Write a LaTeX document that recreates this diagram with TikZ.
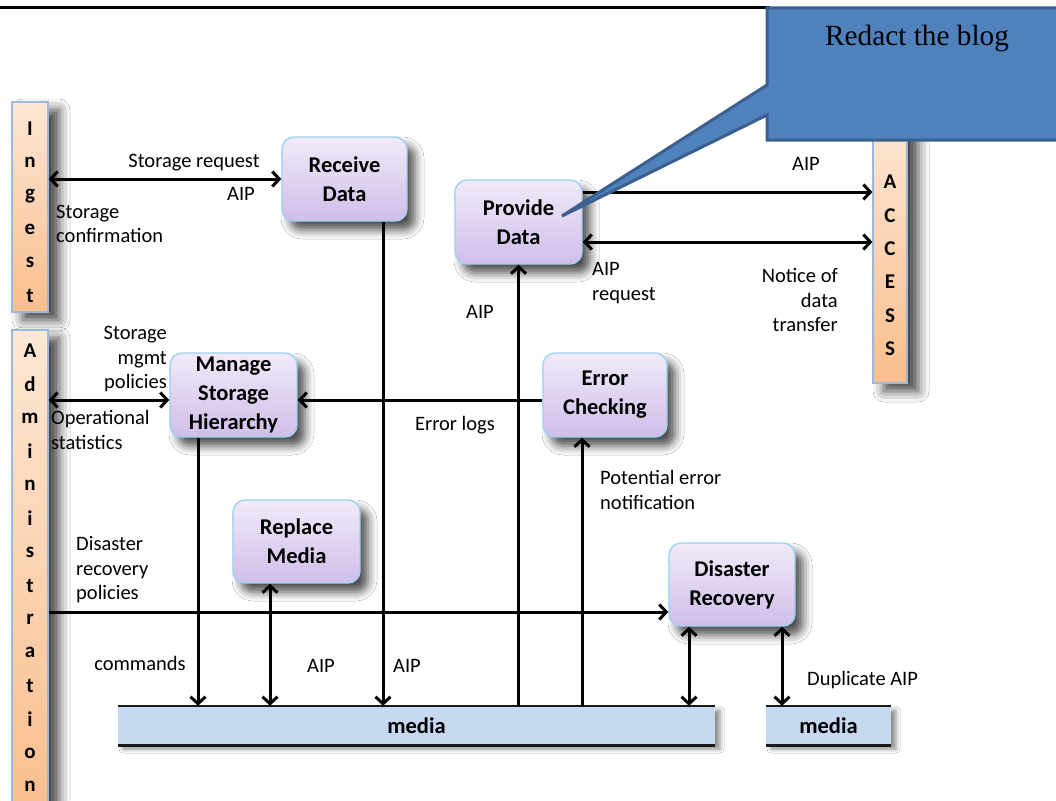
\documentclass[tikz,border=0pt]{standalone}
\usepackage{fontspec}
\setmainfont{Carlito}
\newfontfamily\calloutfont{Liberation Serif}
\usetikzlibrary{arrows.meta,shadows.blur,calc}

\definecolor{boxtop}{HTML}{F1EAF9}
\definecolor{boxbot}{HTML}{D0BEE9}
\definecolor{boxedge}{HTML}{9CD2F2}
\definecolor{bartop}{HTML}{FDE7D5}
\definecolor{barbot}{HTML}{F9BE8C}
\definecolor{baredge}{HTML}{9BB9DD}
\definecolor{mediafill}{HTML}{C6D9F1}
\definecolor{calloutfill}{HTML}{4F81BD}
\definecolor{calloutedge}{HTML}{3B6090}

\tikzset{
  lbl/.style={font=\fontsize{20.5}{24.5}\selectfont, inner sep=0pt, text=black},
  proc/.style={rounded corners=12pt, draw=boxedge, line width=1.4pt,
    top color=boxtop, bottom color=boxbot, align=center,
    font=\bfseries\fontsize{22.5}{29}\selectfont, text=black,
    blur shadow={shadow xshift=8pt, shadow yshift=-9pt, shadow blur radius=9pt, shadow opacity=70}},
  sidebar/.style={draw=baredge, line width=1.2pt, top color=bartop, bottom color=barbot,
    minimum width=36pt, inner sep=0pt,
    blur shadow={shadow xshift=11pt, shadow yshift=-8pt, shadow blur radius=11pt, shadow opacity=75}},
  barletter/.style={font=\bfseries\fontsize{21}{24}\selectfont, inner sep=0pt, text=black},
  mediabar/.style={fill=mediafill, inner sep=0pt, font=\bfseries\fontsize{22.5}{24}\selectfont,
    blur shadow={shadow xshift=5pt, shadow yshift=-4pt, shadow blur radius=4pt, shadow opacity=45}},
  arr/.style={line width=3pt, -{Straight Barb[length=7pt,width=15pt]}},
  dbl/.style={line width=3pt, {Straight Barb[length=7pt,width=15pt]}-{Straight Barb[length=7pt,width=15pt]}},
}

\begin{document}
\begin{tikzpicture}[x=1pt,y=-1pt]
\useasboundingbox (0,0) rectangle (1056,800);
\fill[white] (0,0) rectangle (1056,800);

% page header rule
\draw[line width=3pt] (0,8) -- (770,8);

% side bars
\node[sidebar, minimum height=210pt] (ingest) at (30,207) {};
\node[sidebar, minimum height=490pt] (admin) at (30,575) {};
\node[sidebar, minimum width=34pt, minimum height=263pt] (access) at (890,251.5) {};

\foreach \c [count=\i from 0] in {I,n,g,e,s,t}
  \node[barletter] at (30,129+33.4*\i) {\c};
\foreach \c [count=\i from 0] in {A,d,m,i,n,i,s,t,r,a,t,i,o,n}
  \node[barletter] at (30,351+33.5*\i) {\c};
\foreach \c [count=\i from 0] in {A,C,C,E,S,S}
  \node[barletter] at (890,182+33.3*\i) {\c};

% process boxes
\node[proc, minimum width=125pt, minimum height=84pt] (recv) at (344.5,179) {Receive\\Data};
\node[proc, minimum width=127pt, minimum height=84pt] (prov) at (518.5,222) {Provide\\Data};
\node[proc, minimum width=127pt, minimum height=84pt] (mgr) at (233.5,395) {Manage\\Storage\\Hierarchy};
\node[proc, minimum width=124pt, minimum height=84pt] (err) at (605,395) {Error\\Checking};
\node[proc, minimum width=127pt, minimum height=83pt] (repl) at (296.5,541.5) {Replace\\Media};
\node[proc, minimum width=126pt, minimum height=83pt] (dr) at (732,584.5) {Disaster\\Recovery};

% media bars
\node[mediabar, minimum width=597pt, minimum height=39pt] (media) at (416.5,725.5) {media};
\node[mediabar, minimum width=125pt, minimum height=39pt] (media2) at (828.5,725.5) {media};
\foreach \m in {media,media2}{
  \draw[line width=2.6pt, black!90] (\m.north west) -- (\m.north east);
  \draw[line width=2.6pt, black!90] (\m.south west) -- (\m.south east);
}

% connectors
\draw[dbl] (ingest.east |- recv.west) -- (recv.west);

\coordinate (rv) at ([xshift=38.5pt]recv.south);
\draw[arr] (rv) -- (rv |- media.north);

\coordinate (pa) at ([yshift=30pt]prov.east);
\draw[arr] (pa) -- (pa -| access.west);
\coordinate (pb) at ([yshift=-20pt]prov.east);
\draw[dbl] (pb) -- (pb -| access.west);

\draw[arr] (prov.south |- media.north) -- (prov.south);

\coordinate (ew) at ([yshift=-5pt]err.west);
\draw[arr] (ew) -- (ew -| mgr.east);
\coordinate (mw) at ([yshift=-5pt]mgr.west);
\draw[dbl] (admin.east |- mw) -- (mw);

\coordinate (ms) at ([xshift=-35.5pt]mgr.south);
\draw[arr] (ms) -- (ms |- media.north);

\coordinate (rs) at ([xshift=-26.5pt]repl.south);
\draw[dbl] (rs) -- (rs |- media.north);

\coordinate (es) at ([xshift=-23pt]err.south);
\draw[arr] (es |- media.north) -- (es);

\coordinate (dw) at ([yshift=-27.5pt]dr.west);
\draw[arr] (admin.east |- dw) -- (dw);

\coordinate (d1) at ([xshift=-43pt]dr.south);
\draw[dbl] (d1) -- (d1 |- media.north);
\coordinate (d2) at ([xshift=50pt]dr.south);
\draw[dbl] (d2) -- (d2 |- media2.north);

% connector labels
\node[lbl] (l1) at (194,163) {Storage request};
\node[lbl] (l2) at (241,194) {AIP};
\node[lbl, anchor=west, align=left] (l3) at (56,224) {Storage\\confirmation};
\node[lbl] (l4) at (806,164) {AIP};
\node[lbl, anchor=west, align=left] (l5) at (592,283) {AIP\\request};
\node[lbl, anchor=east, align=right] (l6) at (838,300) {Notice of\\data\\transfer};
\node[lbl] (l7) at (480,312) {AIP};
\node[lbl, anchor=east, align=right] (l8) at (167,359) {Storage\\mgmt\\policies};
\node[lbl, anchor=west, align=left] (l9) at (51,430) {Operational\\statistics};
\node[lbl] (l10) at (455,425) {Error logs};
\node[lbl, anchor=west, align=left] (l11) at (600,490) {Potential error\\notification};
\node[lbl, anchor=west, align=left] (l12) at (76,570) {Disaster\\recovery\\policies};
\node[lbl] (l13) at (140,663) {commands};
\node[lbl] (l14) at (321,666) {AIP};
\node[lbl] (l15) at (407,666) {AIP};
\node[lbl, anchor=west] (l16) at (807,680) {Duplicate AIP};

% callout
\filldraw[fill=calloutfill, draw=calloutedge, line width=3pt, line join=miter]
  (767,8) -- (1062,8) -- (1062,140) -- (767,140) -- (767,115) -- (562,216) -- (767,85) -- cycle;
\node[font=\calloutfont\fontsize{29.3}{32}\selectfont, inner sep=0pt] (callout) at (917,38) {Redact the blog};
\end{tikzpicture}
\end{document}
